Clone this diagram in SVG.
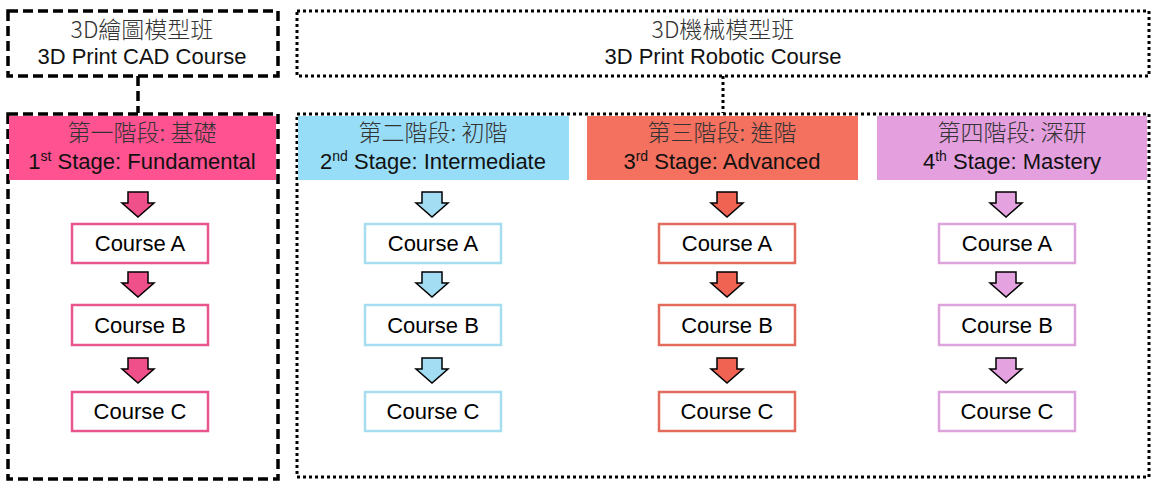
<svg xmlns="http://www.w3.org/2000/svg" width="1156" height="487" viewBox="0 0 1156 487">
<style>
.dash{fill:none;stroke:#000;stroke-width:3.5;stroke-dasharray:10 5}
.dot{fill:none;stroke:#000;stroke-width:3;stroke-dasharray:3 3}
.t{font-family:"Liberation Sans","Noto Sans CJK TC",sans-serif;font-size:22px;text-anchor:middle;fill:#111}
.zh{font-family:"Noto Sans CJK TC","Liberation Sans",sans-serif;font-size:23px;font-weight:300;text-anchor:middle;fill:#333}
.sup{font-size:14px}
.c{font-family:"Liberation Sans",Arial,sans-serif;font-size:22px;text-anchor:middle;fill:#000}
.box{fill:#fff;stroke-width:2.5}
.arr{stroke:#000;stroke-width:1.5;stroke-linejoin:miter}
</style>
<defs>
<path id="a" d="M-10,0 H10 V11 H16 L0,25 L-16,11 H-10 Z"/>
</defs>
<rect width="1156" height="487" fill="#fff"/>

<g id="connectors">
<line x1="138" y1="76" x2="138" y2="113" class="dash"/>
<line x1="723" y1="76" x2="723" y2="113" class="dot"/>
</g>

<g id="cad-course">
<rect x="8" y="11" width="270" height="65" class="dash"/>
<text x="142" y="38" class="zh">3D繪圖模型班</text>
<text x="142" y="64" class="t">3D Print CAD Course</text>
</g>
<g id="robotic-course">
<rect x="297" y="11" width="852" height="65" class="dot"/>
<text x="723" y="38" class="zh">3D機械模型班</text>
<text x="723" y="64" class="t">3D Print Robotic Course</text>
</g>

<g id="cad-frame"><rect x="8" y="114" width="270" height="365" class="dash"/></g>
<g id="robotic-frame"><rect x="297" y="114" width="852" height="363" class="dot"/></g>

<g id="stage1">
<rect x="9" y="116" width="267" height="64" fill="#FF5290"/>
<text x="142" y="141" class="zh">第一階段: 基礎</text>
<text x="142" y="169" class="t">1<tspan class="sup" dy="-8">st</tspan><tspan dy="8"> Stage: Fundamental</tspan></text>
<use href="#a" x="138" y="192" class="arr" fill="#F0508A"/>
<rect x="72" y="224" width="136" height="39" class="box" stroke="#E8568E"/>
<text x="140" y="251" class="c">Course A</text>
<use href="#a" x="138" y="272" class="arr" fill="#F0508A"/>
<rect x="72" y="305" width="136" height="40" class="box" stroke="#E8568E"/>
<text x="140" y="333" class="c">Course B</text>
<use href="#a" x="138" y="358" class="arr" fill="#F0508A"/>
<rect x="72" y="392" width="136" height="39" class="box" stroke="#E8568E"/>
<text x="140" y="419" class="c">Course C</text>
</g>

<g id="stage2">
<rect x="298" y="116" width="271" height="64" fill="#98DDF7"/>
<text x="433" y="141" class="zh">第二階段: 初階</text>
<text x="433" y="169" class="t">2<tspan class="sup" dy="-8">nd</tspan><tspan dy="8"> Stage: Intermediate</tspan></text>
<use href="#a" x="432" y="192" class="arr" fill="#A3DDF4"/>
<rect x="365" y="224" width="136" height="39" class="box" stroke="#A6DDF0"/>
<text x="433" y="251" class="c">Course A</text>
<use href="#a" x="432" y="272" class="arr" fill="#A3DDF4"/>
<rect x="365" y="305" width="136" height="40" class="box" stroke="#A6DDF0"/>
<text x="433" y="333" class="c">Course B</text>
<use href="#a" x="432" y="358" class="arr" fill="#A3DDF4"/>
<rect x="365" y="392" width="136" height="39" class="box" stroke="#A6DDF0"/>
<text x="433" y="419" class="c">Course C</text>
</g>

<g id="stage3">
<rect x="587" y="116" width="271" height="64" fill="#F4705F"/>
<text x="722" y="141" class="zh">第三階段: 進階</text>
<text x="722" y="169" class="t">3<tspan class="sup" dy="-8">rd</tspan><tspan dy="8"> Stage: Advanced</tspan></text>
<use href="#a" x="727" y="192" class="arr" fill="#F06352"/>
<rect x="659" y="224" width="136" height="39" class="box" stroke="#E26B5C"/>
<text x="727" y="251" class="c">Course A</text>
<use href="#a" x="727" y="272" class="arr" fill="#F06352"/>
<rect x="659" y="305" width="136" height="40" class="box" stroke="#E26B5C"/>
<text x="727" y="333" class="c">Course B</text>
<use href="#a" x="727" y="358" class="arr" fill="#F06352"/>
<rect x="659" y="392" width="136" height="39" class="box" stroke="#E26B5C"/>
<text x="727" y="419" class="c">Course C</text>
</g>

<g id="stage4">
<rect x="877" y="116" width="270" height="64" fill="#E39FDE"/>
<text x="1012" y="141" class="zh">第四階段: 深研</text>
<text x="1012" y="169" class="t">4<tspan class="sup" dy="-8">th</tspan><tspan dy="8"> Stage: Mastery</tspan></text>
<use href="#a" x="1006" y="192" class="arr" fill="#E4A2E0"/>
<rect x="939" y="224" width="136" height="39" class="box" stroke="#DDA3DC"/>
<text x="1007" y="251" class="c">Course A</text>
<use href="#a" x="1006" y="272" class="arr" fill="#E4A2E0"/>
<rect x="939" y="305" width="136" height="40" class="box" stroke="#DDA3DC"/>
<text x="1007" y="333" class="c">Course B</text>
<use href="#a" x="1006" y="358" class="arr" fill="#E4A2E0"/>
<rect x="939" y="392" width="136" height="39" class="box" stroke="#DDA3DC"/>
<text x="1007" y="419" class="c">Course C</text>
</g>
</svg>
